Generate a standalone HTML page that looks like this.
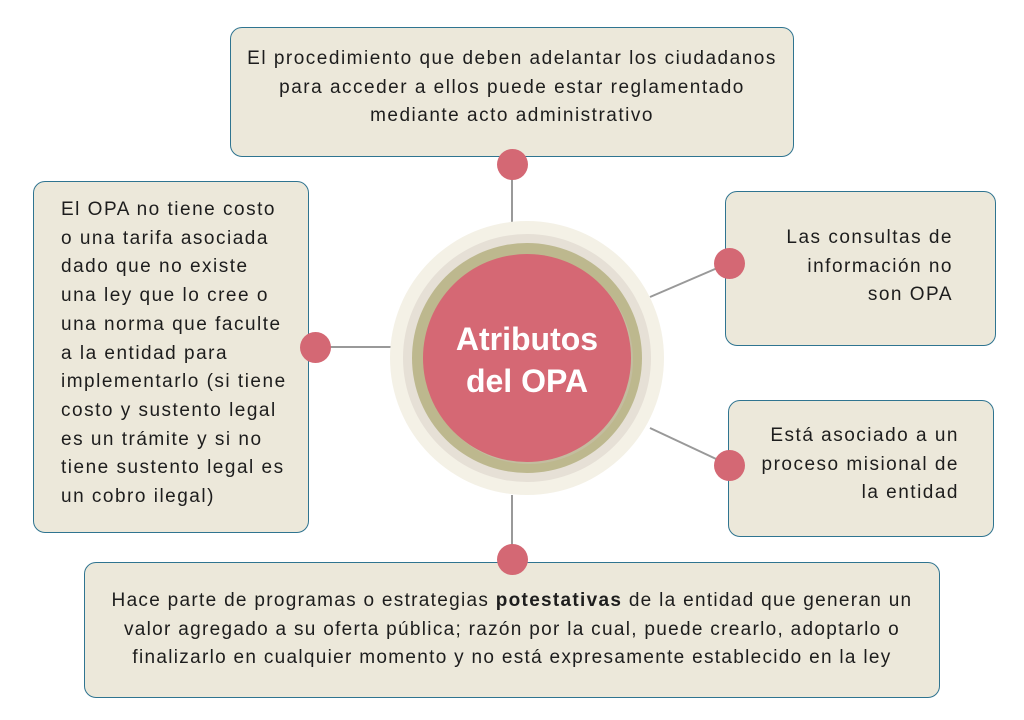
<!DOCTYPE html>
<html><head><meta charset="utf-8"><style>
body{margin:0;width:1024px;height:720px;background:#fff;position:relative;overflow:hidden;font-family:"Liberation Sans",sans-serif;color:#1d1d1d}
.b{position:absolute;background:#ECE8DA;border:1.5px solid #2f7490;border-radius:12px;box-sizing:border-box}
.t{position:absolute;font-size:19px;line-height:28.7px;letter-spacing:1.5px;white-space:nowrap}
.d{position:absolute;width:31px;height:31px;border-radius:50%;background:#D46874}
</style></head><body>
<svg width="1024" height="720" style="position:absolute;left:0;top:0">
<g stroke="#999" stroke-width="2">
<line x1="512" y1="164" x2="512" y2="228"/>
<line x1="315" y1="347" x2="392" y2="347"/>
<line x1="729" y1="263" x2="650" y2="297"/>
<line x1="729" y1="465" x2="650" y2="428"/>
<line x1="512" y1="495" x2="512" y2="559"/>
</g>
<circle cx="527" cy="358" r="137" fill="#F4F1E6"/>
<circle cx="527" cy="358" r="124" fill="#E6E0D6"/>
<circle cx="527" cy="358" r="115" fill="#BDB88E"/>
<circle cx="529" cy="360" r="104" fill="#c9c2b0" opacity="0.5"/>
<circle cx="527" cy="358" r="104" fill="#D56874"/>
<text x="527" y="350" text-anchor="middle" font-family="Liberation Sans,sans-serif" font-weight="bold" font-size="32" fill="#fff">Atributos</text>
<text x="527" y="392" text-anchor="middle" font-family="Liberation Sans,sans-serif" font-weight="bold" font-size="32" fill="#fff">del OPA</text>
</svg>
<div class="b" style="left:230px;top:27px;width:564px;height:130px"></div>
<div class="t" style="left:230px;width:564px;top:45px;text-align:center">El procedimiento que deben adelantar los ciudadanos<br>para acceder a ellos puede estar reglamentado<br>mediante acto administrativo</div>
<div class="b" style="left:33px;top:181px;width:276px;height:352px"></div>
<div class="t" style="left:61px;top:196px">El OPA no tiene costo<br>o una tarifa asociada<br>dado que no existe<br>una ley que lo cree o<br>una norma que faculte<br>a la entidad para<br>implementarlo (si tiene<br>costo y sustento legal<br>es un trámite y si no<br>tiene sustento legal es<br>un cobro ilegal)</div>
<div class="b" style="left:725px;top:191px;width:271px;height:155px"></div>
<div class="t" style="right:71px;top:224px;text-align:right">Las consultas de<br>información no<br>son OPA</div>
<div class="b" style="left:728px;top:400px;width:266px;height:137px"></div>
<div class="t" style="right:65px;top:422px;text-align:right">Está asociado a un<br>proceso misional de<br>la entidad</div>
<div class="b" style="left:84px;top:562px;width:856px;height:136px"></div>
<div class="t" style="left:84px;width:856px;top:587px;text-align:center;letter-spacing:1.3px">Hace parte de programas o estrategias <b>potestativas</b> de la entidad que generan un<br>valor agregado a su oferta pública; razón por la cual, puede crearlo, adoptarlo o<br>finalizarlo en cualquier momento y no está expresamente establecido en la ley</div>
<div class="d" style="left:497px;top:149px"></div>
<div class="d" style="left:300px;top:332px"></div>
<div class="d" style="left:714px;top:248px"></div>
<div class="d" style="left:714px;top:450px"></div>
<div class="d" style="left:497px;top:544px"></div>
</body></html>
